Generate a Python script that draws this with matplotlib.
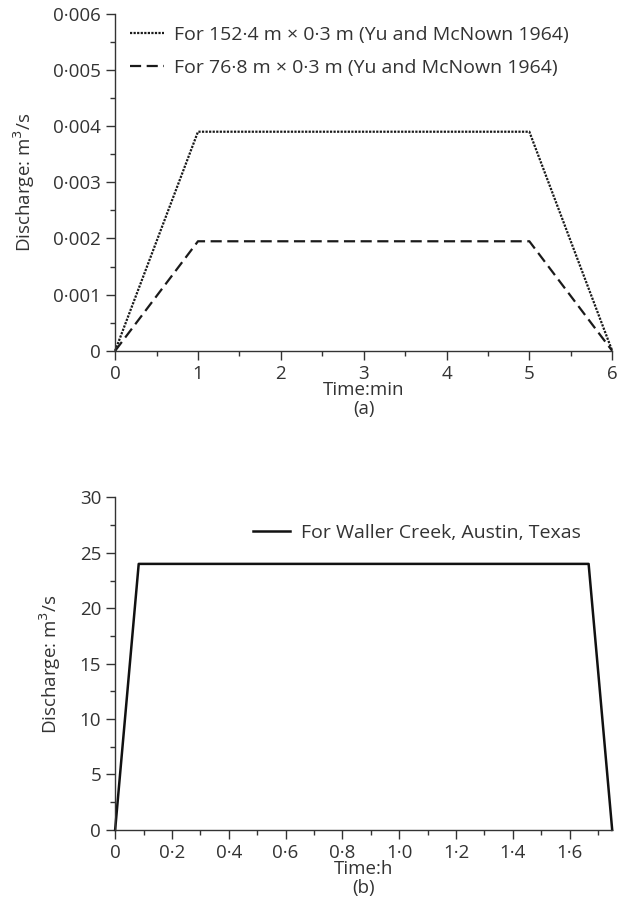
import matplotlib
matplotlib.use('Agg')
import matplotlib.pyplot as plt
from matplotlib.ticker import MultipleLocator

plt.rcParams['font.family'] = ['Open Sans', 'DejaVu Sans']
plt.rcParams['font.size'] = 13.5
plt.rcParams['text.color'] = '#333333'
plt.rcParams['axes.labelcolor'] = '#333333'
plt.rcParams['xtick.color'] = '#333333'
plt.rcParams['ytick.color'] = '#333333'

# (a) laboratory hydrographs
t_min = [0, 1, 5, 6]
q_152 = [0, 0.0039, 0.0039, 0]
q_768 = [0, 0.00195, 0.00195, 0]
xticks_a = [0, 1, 2, 3, 4, 5, 6]
yticks_a = [0, 0.001, 0.002, 0.003, 0.004, 0.005, 0.006]
ylabels_a = ['0', '0·001', '0·002', '0·003', '0·004', '0·005', '0·006']

# (b) Waller Creek
t_h = [0, 0.083, 1.667, 1.75]
q_waller = [0, 24, 24, 0]
xticks_b = [0, 0.2, 0.4, 0.6, 0.8, 1.0, 1.2, 1.4, 1.6]
xlabels_b = ['0', '0·2', '0·4', '0·6', '0·8', '1·0', '1·2', '1·4', '1·6']
yticks_b = [0, 5, 10, 15, 20, 25, 30]

fig = plt.figure(figsize=(6.19, 9.16), dpi=100)
ax1 = fig.add_axes([0.186, 0.617, 0.803, 0.368])
ax2 = fig.add_axes([0.186, 0.094, 0.803, 0.363])

def style(ax):
    for s in ['top', 'right']:
        ax.spines[s].set_visible(False)
    for s in ['left', 'bottom']:
        ax.spines[s].set_color('#333333')
        ax.spines[s].set_linewidth(1.0)
    ax.tick_params(which='major', direction='out', length=6.5, width=1.0, labelsize=13.5, pad=3.5)
    ax.tick_params(which='minor', direction='out', length=3.5, width=1.0)
    for line in ax.get_lines():
        line.set_clip_on(False)

ax1.plot(t_min, q_152, color='#1a1a1a', linestyle=(0, (1, 0.6)), linewidth=1.6,
         label='For 152·4 m × 0·3 m (Yu and McNown 1964)')
ax1.plot(t_min, q_768, color='#1a1a1a', linestyle=(0, (5, 2.5)), linewidth=1.6,
         label='For 76·8 m × 0·3 m (Yu and McNown 1964)')
ax1.set_xlim(0, 6)
ax1.set_ylim(0, 0.006)
ax1.set_xticks(xticks_a)
ax1.set_yticks(yticks_a)
ax1.set_yticklabels(ylabels_a)
ax1.xaxis.set_minor_locator(MultipleLocator(0.5))
ax1.yaxis.set_minor_locator(MultipleLocator(0.0005))
ax1.set_xlabel('Time:min\n(a)', labelpad=-1, linespacing=1.05)
ax1.set_ylabel('Discharge: m$^3$/s', labelpad=12)
style(ax1)
ax1.legend(loc='upper left', bbox_to_anchor=(0.03, 0.965), frameon=False,
           borderpad=0, borderaxespad=0,
           handlelength=1.75, handletextpad=0.5, fontsize=14, labelspacing=0.8)

ax2.plot(t_h, q_waller, color='#111111', linewidth=1.8,
         label='For Waller Creek, Austin, Texas')
ax2.set_xlim(0, 1.75)
ax2.set_ylim(0, 30)
ax2.set_xticks(xticks_b)
ax2.set_xticklabels(xlabels_b)
ax2.set_yticks(yticks_b)
ax2.xaxis.set_minor_locator(MultipleLocator(0.1))
ax2.yaxis.set_minor_locator(MultipleLocator(2.5))
ax2.set_xlabel('Time:h\n(b)', labelpad=-1, linespacing=1.05)
ax2.set_ylabel('Discharge: m$^3$/s', labelpad=12)
style(ax2)
ax2.legend(loc='upper right', bbox_to_anchor=(0.936, 0.92), frameon=False,
           borderpad=0, borderaxespad=0,
           handlelength=1.9, handletextpad=0.55, fontsize=14)

fig.savefig('out.png', dpi=100)
